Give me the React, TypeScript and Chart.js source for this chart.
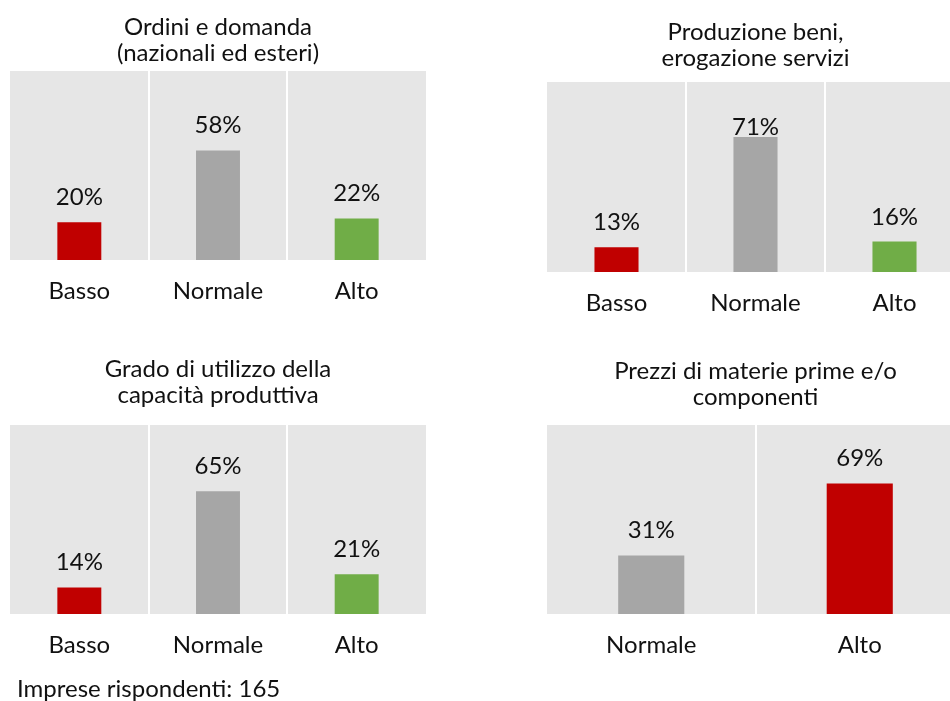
import React, { useEffect, useRef } from "react";
import { Chart, registerables } from "chart.js";

Chart.register(...registerables);

// ---------- data ----------
const ordiniTitle = ["Ordini e domanda", "(nazionali ed esteri)"];
const ordiniCategories = ["Basso", "Normale", "Alto"];
const ordiniValues = [20, 58, 22];

const produzioneTitle = ["Produzione beni,", "erogazione servizi"];
const produzioneCategories = ["Basso", "Normale", "Alto"];
const produzioneValues = [13, 71, 16];

const capacitaTitle = ["Grado di utilizzo della", "capacità produttiva"];
const capacitaCategories = ["Basso", "Normale", "Alto"];
const capacitaValues = [14, 65, 21];

const prezziTitle = ["Prezzi di materie prime e/o", "componenti"];
const prezziCategories = ["Normale", "Alto"];
const prezziValues = [31, 69];

const footnote = "Imprese rispondenti: 165";

// ---------- styles ----------
const FONT = "Lato, 'Open Sans', sans-serif";
const FONT_SIZE = 24;
const TEXT = "#111111";
const RED = "#c00000";
const GREY = "#a6a6a6";
const GREEN = "#70ad47";
const PLOT_BG = "#e6e6e6";

const plotBackground = {
  id: "plotBackground",
  beforeDraw(chart: any) {
    const { ctx, chartArea } = chart;
    if (!chartArea) return;
    ctx.save();
    ctx.fillStyle = PLOT_BG;
    ctx.fillRect(
      chartArea.left,
      chartArea.top,
      chartArea.right - chartArea.left,
      chartArea.bottom - chartArea.top
    );
    ctx.restore();
  },
};

const valueLabels = {
  id: "valueLabels",
  afterDatasetsDraw(chart: any, _args: any, opts: any) {
    const { ctx } = chart;
    const meta = chart.getDatasetMeta(0);
    const data = chart.data.datasets[0].data;
    ctx.save();
    ctx.font = `${FONT_SIZE}px ${FONT}`;
    ctx.fillStyle = TEXT;
    ctx.textAlign = "center";
    ctx.textBaseline = "middle";
    meta.data.forEach((bar: any, i: number) => {
      const gap = (opts.gaps && opts.gaps[i]) ?? 25;
      ctx.fillText(`${data[i]}%`, bar.x, bar.y - gap);
    });
    ctx.restore();
  },
};

type PanelProps = {
  left: number;
  top: number;
  width: number;
  height: number;
  title: string[];
  titlePadTop: number;
  titlePadBottom: number;
  categories: string[];
  values: number[];
  colors: string[];
  gaps?: number[];
};

function Panel(p: PanelProps) {
  const ref = useRef<HTMLCanvasElement | null>(null);
  useEffect(() => {
    if (!ref.current) return;
    const n = p.categories.length;
    const chart = new Chart(ref.current, {
      type: "bar",
      data: {
        labels: p.categories,
        datasets: [
          {
            data: p.values,
            backgroundColor: p.colors,
            borderWidth: 0,
            categoryPercentage: 1,
            barPercentage: 0.317,
          },
        ],
      },
      options: {
        responsive: false,
        animation: false,
        events: [],
        layout: { padding: { left: 10, right: 10, top: 0, bottom: 0 } },
        plugins: {
          legend: { display: false },
          tooltip: { enabled: false },
          title: {
            display: true,
            text: p.title,
            color: TEXT,
            font: { family: FONT, size: FONT_SIZE, weight: "normal", lineHeight: "26px" } as any,
            padding: { top: p.titlePadTop, bottom: p.titlePadBottom },
          },
          valueLabels: { gaps: p.gaps },
        } as any,
        scales: {
          x: {
            offset: true,
            grid: {
              display: true,
              offset: true,
              drawTicks: false,
              lineWidth: 2,
              color: (c: any) =>
                typeof c.index === "number" && c.index >= 1 && c.index < n ? "#ffffff" : "rgba(0,0,0,0)",
            },
            border: { display: false },
            ticks: {
              color: TEXT,
              padding: 17,
              font: { family: FONT, size: FONT_SIZE },
            },
            afterFit: (scale: any) => {
              scale.height = 60;
            },
          },
          y: {
            display: false,
            min: 0,
            max: 100,
          },
        },
      },
      plugins: [plotBackground, valueLabels],
    });
    return () => chart.destroy();
  }, []);
  return (
    <canvas
      ref={ref}
      width={p.width}
      height={p.height}
      style={{ position: "absolute", left: p.left, top: p.top, width: p.width, height: p.height }}
    />
  );
}

export default function App() {
  return (
    <div
      style={{
        position: "absolute",
        left: 0,
        top: 0,
        width: 950,
        height: 701,
        overflow: "hidden",
        background: "#ffffff",
      }}
    >
      <Panel
        left={0}
        top={0}
        width={436}
        height={320}
        title={ordiniTitle}
        titlePadTop={14}
        titlePadBottom={5}
        categories={ordiniCategories}
        values={ordiniValues}
        colors={[RED, GREY, GREEN]}
      />
      <Panel
        left={537}
        top={0}
        width={437}
        height={332}
        title={produzioneTitle}
        titlePadTop={19}
        titlePadBottom={11}
        categories={produzioneCategories}
        values={produzioneValues}
        colors={[RED, GREY, GREEN]}
        gaps={[25, 10, 24]}
      />
      <Panel
        left={0}
        top={340}
        width={436}
        height={334}
        title={capacitaTitle}
        titlePadTop={16}
        titlePadBottom={17}
        categories={capacitaCategories}
        values={capacitaValues}
        colors={[RED, GREY, GREEN]}
      />
      <Panel
        left={537}
        top={340}
        width={437}
        height={334}
        title={prezziTitle}
        titlePadTop={18}
        titlePadBottom={15}
        categories={prezziCategories}
        values={prezziValues}
        colors={[GREY, RED]}
      />
      <div
        style={{
          position: "absolute",
          left: 17,
          top: 674,
          fontFamily: FONT,
          fontSize: FONT_SIZE,
          lineHeight: "28px",
          color: TEXT,
          whiteSpace: "nowrap",
        }}
      >
        {footnote}
      </div>
    </div>
  );
}
